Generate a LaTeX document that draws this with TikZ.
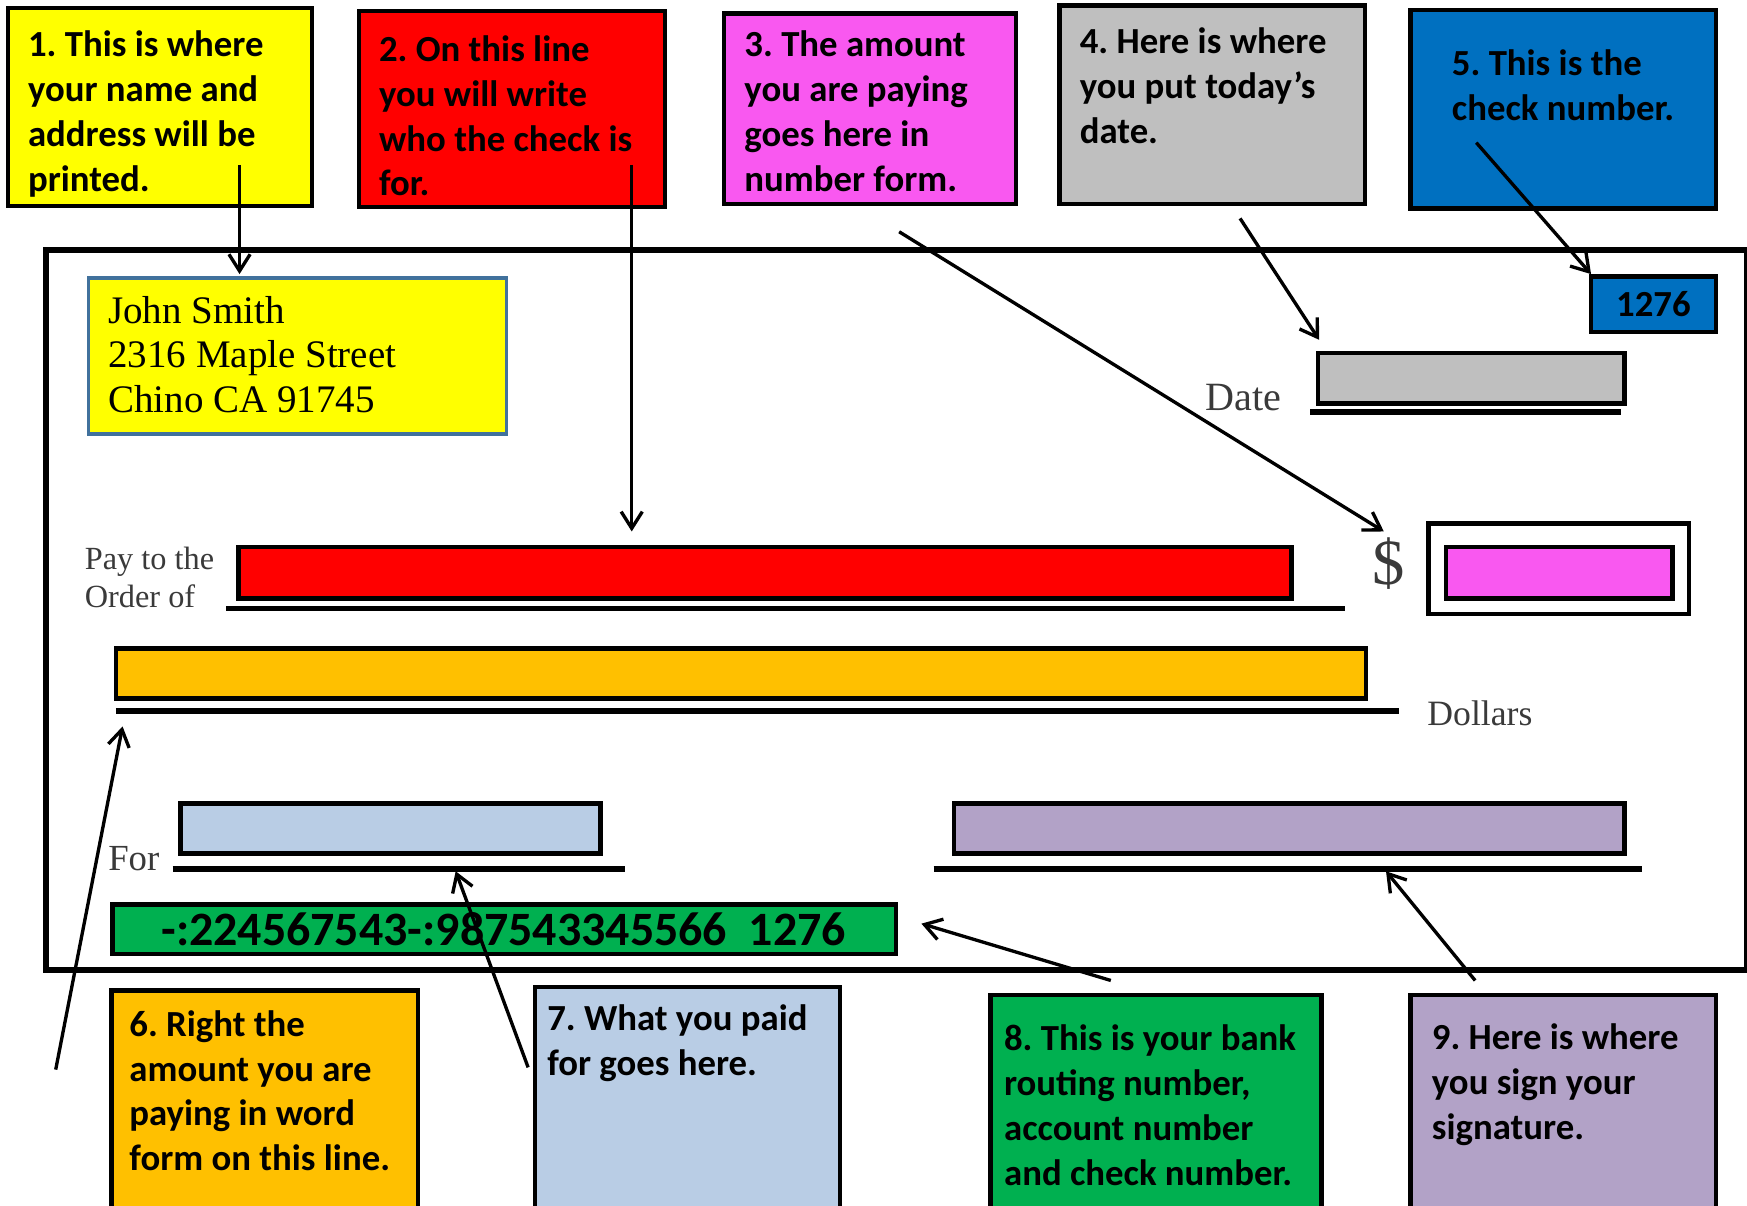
\documentclass[tikz,border=0pt]{standalone}
\usepackage{fontspec}
\setmainfont{Carlito}
\newfontfamily\chkfont{Liberation Serif}
\usetikzlibrary{arrows.meta}
\definecolor{cyel}{HTML}{FFFF00}
\definecolor{cred}{HTML}{FF0000}
\definecolor{cpink}{HTML}{F958F0}
\definecolor{cgray}{HTML}{BFBFBF}
\definecolor{cblue}{HTML}{0070C0}
\definecolor{corange}{HTML}{FFC000}
\definecolor{clblue}{HTML}{B9CDE5}
\definecolor{cgreen}{HTML}{00B050}
\definecolor{cpurple}{HTML}{B2A2C7}
\definecolor{caddr}{HTML}{41719C}
\definecolor{clabel}{HTML}{3A3A3A}
\newcommand{\lns}[1]{\parbox[t]{400pt}{\raggedright #1}}
\frenchspacing
\begin{document}
\begin{tikzpicture}[x=1pt,y=-1pt,
  callout/.style={draw=black,line width=4pt,anchor=north west,inner sep=0pt,outer sep=0pt},
  bar/.style={draw=black,line width=4pt,anchor=north west,inner sep=0pt,outer sep=0pt},
  boxtext/.style={anchor=base west,inner sep=0pt,font=\bfseries\fontsize{33}{40.3}\selectfont},
  chklabel/.style={anchor=base west,inner sep=0pt,text=clabel},
  uline/.style={line width=5pt},
  pointer/.style={line width=3pt,-{Straight Barb[length=15pt,width=19pt,line width=3pt]}}]
\useasboundingbox (0,0) rectangle (1568,1082.4);
\clip (0,0) rectangle (1568,1082.4);
\fill[white] (0,0) rectangle (1568,1082.4);

% callout boxes, top
\node[callout,fill=cyel,minimum width=273pt,minimum height=178pt] (b1) at (7,7) {};
\node[callout,fill=cred,minimum width=275pt,minimum height=176pt] (b2) at (322,10) {};
\node[callout,fill=cpink,minimum width=262pt,minimum height=171pt] (b3) at (650,12) {};
\node[callout,fill=cgray,minimum width=274pt,minimum height=178pt] (b4) at (951,5) {};
\node[callout,fill=cblue,minimum width=274pt,minimum height=178pt] (b5) at (1266,9) {};

\node[boxtext] (t1) at (25,51) {\lns{1. This is where\\your name and\\address will be\\printed.}};
\node[boxtext] (t2) at (340,55) {\lns{2. On this line\\you will write\\who the check is\\for.}};
\node[boxtext] (t3) at (668,51) {\lns{3. The amount\\you are paying\\goes here in\\number form.}};
\node[boxtext] (t4) at (969,48) {\lns{4. Here is where\\you put today’s\\date.}};
\node[boxtext] (t5) at (1303,68) {\lns{5. This is the\\check number.}};

% check
\node[draw=black,line width=5pt,anchor=north west,inner sep=0pt,minimum width=1526pt,minimum height=646pt] (check) at (39,222) {};

\node[draw=caddr,line width=3pt,fill=cyel,anchor=north west,inner sep=0pt,minimum width=375pt,minimum height=140pt] (addr) at (78,248) {};
\node[anchor=base west,inner sep=0pt,font=\chkfont\fontsize{35}{40}\selectfont] (addrtext) at (97,290) {\lns{John Smith\\2316 Maple Street\\Chino CA 91745}};

\node[bar,fill=cblue,minimum width=112pt,minimum height=50pt] (num) at (1428,248) {};
\node[anchor=base,inner sep=0pt,font=\bfseries\fontsize{33}{40}\selectfont] (numtext) at (1484,284) {1276};

\node[chklabel,font=\chkfont\fontsize{36}{40}\selectfont] (date) at (1082,368) {Date};
\node[bar,fill=cgray,minimum width=275pt,minimum height=45pt] (datebox) at (1183,317) {};
\draw[uline] (1176,370) -- (1455,370);

\node[chklabel,font=\chkfont\fontsize{29}{34}\selectfont] (pay) at (76,511) {\lns{Pay to the\\Order of}};
\node[bar,fill=cred,minimum width=945pt,minimum height=46pt] (payee) at (214,491) {};
\draw[uline] (203,546) -- (1207,546);

\node[inner sep=0pt,text=clabel,font=\chkfont\fontsize{58}{60}\selectfont] (dollar) at (1246,506) {\$};
\node[bar,fill=white,minimum width=234pt,minimum height=81pt] (amtouter) at (1282,470) {};
\node[bar,fill=cpink,minimum width=203pt,minimum height=46pt] (amt) at (1298,491) {};

\node[bar,fill=corange,minimum width=1122pt,minimum height=45pt] (words) at (104,582) {};
\draw[uline] (104,638) -- (1256,638);
\coordinate (wordsstart) at (110,652);
\node[chklabel,font=\chkfont\fontsize{32}{36}\selectfont] (dollars) at (1281,651) {Dollars};

\node[chklabel,font=\chkfont\fontsize{33}{36}\selectfont] (for) at (97,781) {For};
\node[bar,fill=clblue,minimum width=377pt,minimum height=45pt] (memo) at (162,721) {};
\draw[uline] (155,780) -- (561,780);

\node[bar,fill=cpurple,minimum width=602pt,minimum height=45pt] (sig) at (856,721) {};
\draw[uline] (838,780) -- (1474,780);

\node[bar,fill=cgreen,minimum width=703pt,minimum height=44pt] (micr) at (101,812) {};
\node[anchor=base,inner sep=0pt,font=\bfseries\fontsize{43}{44}\selectfont] (micrtext) at (452,849) {-:224567543-:987543345566\ \ 1276};

% callout boxes, bottom
\node[callout,fill=corange,minimum width=275pt,minimum height=230pt] (b6) at (100,889) {};
\node[callout,fill=clblue,minimum width=274pt,minimum height=230pt] (b7) at (480,886) {};
\node[callout,fill=cgreen,minimum width=297pt,minimum height=230pt] (b8) at (889,893) {};
\node[callout,fill=cpurple,minimum width=274pt,minimum height=230pt] (b9) at (1266,893) {};

\node[boxtext] (t6) at (116,930) {\lns{6. Right the\\amount you are\\paying in word\\form on this line.}};
\node[boxtext] (t7) at (491,925) {\lns{7. What you paid\\for goes here.}};
\node[boxtext] (t8) at (901,943) {\lns{8. This is your bank\\routing number,\\account number\\and check number.}};
\node[boxtext] (t9) at (1285,942) {\lns{9. Here is where\\you sign your\\signature.}};

% arrow ends
\coordinate (s1) at (215,148); \coordinate (e1) at (215,246);
\coordinate (s2) at (567,148); \coordinate (e2) at (567,477);
\coordinate (s3) at (807,208); \coordinate (e3) at (1242,477);
\coordinate (s4) at (1113,196); \coordinate (e4) at (1184,305);
\coordinate (s5) at (1325,128); \coordinate (e5) at (1428,246);
\coordinate (s6) at (50,960);
\coordinate (s7) at (474,958); \coordinate (e7) at (409,782);
\coordinate (s8) at (997,880); \coordinate (e8) at (827,829);
\coordinate (s9) at (1324,880); \coordinate (e9) at (1244,782);

\draw[pointer] (s1) -- (e1);
\draw[pointer] (s2) -- (e2);
\draw[pointer] (s3) -- (e3);
\draw[pointer] (s4) -- (e4);
\draw[pointer] (s5) -- (e5);
\draw[pointer] (s6) -- (wordsstart);
\draw[pointer] (s7) -- (e7);
\draw[pointer] (s8) -- (e8);
\draw[pointer] (s9) -- (e9);
\end{tikzpicture}
\end{document}
